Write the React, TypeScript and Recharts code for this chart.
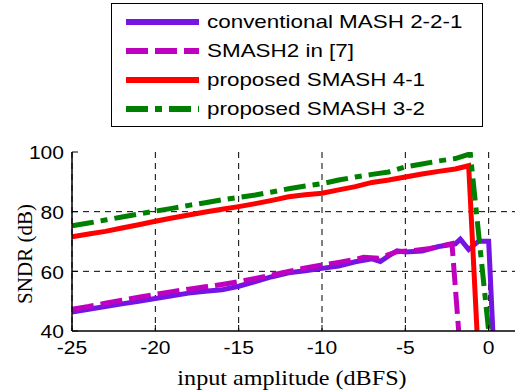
import React from "react";
import { LineChart, Line, XAxis, YAxis, CartesianGrid } from "recharts";

// input amplitude (dBFS) / SNDR (dB) for each curve
const mashX = [-25, -24, -23, -22, -21, -20, -19, -18, -17, -16, -15, -14, -13, -12, -11, -10, -9, -8, -7, -6.5, -6, -5.5, -5, -4, -3, -2, -1.7, -1.2, -0.6, 0, 0.25];
const mashY = [46.4, 47.3, 48.2, 49.1, 50.0, 50.9, 51.8, 52.7, 53.3, 53.8, 55.0, 56.6, 58.2, 59.5, 60.2, 61.0, 61.8, 63.2, 64.2, 63.3, 65.2, 66.9, 66.5, 66.8, 68.3, 69.2, 70.8, 67.3, 70.1, 70.1, 40];

const smash2X = [-25, -24, -23, -22, -21, -20, -19, -18, -17, -16, -15, -14, -13, -12, -11, -10, -9, -8, -7.5, -6.6, -5.5, -4.5, -3.5, -2.2, -1.8];
const smash2Y = [47.3, 48.2, 49.3, 50.3, 51.3, 52.3, 53.2, 54.0, 54.8, 55.6, 56.5, 57.6, 58.8, 60.0, 61.1, 62.1, 63.0, 64.0, 64.7, 64.4, 66.6, 67.0, 67.7, 69.3, 40];

const smash41X = [-25, -24, -23, -22, -21, -20, -19, -18, -17, -16, -15, -14, -13, -12, -11, -10, -9, -8, -7, -6, -5, -4, -3, -2, -1.2, -0.7];
const smash41Y = [71.6, 72.5, 73.4, 74.5, 75.6, 76.8, 77.9, 78.9, 79.9, 80.8, 81.7, 82.7, 83.8, 85.0, 85.7, 86.2, 87.3, 88.4, 89.8, 90.6, 91.6, 92.6, 93.5, 94.3, 95.4, 40];

const smash32X = [-25, -24, -23, -22, -21, -20, -19, -18, -17, -16, -15, -14, -13, -12, -11, -10, -9, -8, -7, -6, -5, -4, -3, -2, -1.1, 0];
const smash32Y = [75.3, 76.2, 77.2, 78.2, 79.2, 80.2, 81.1, 82.1, 83.0, 84.0, 84.8, 85.6, 86.6, 87.7, 88.6, 89.4, 90.6, 91.6, 92.5, 93.3, 95.0, 96.0, 97.0, 97.8, 99.4, 40];

const xTicks = [-25, -20, -15, -10, -5, 0];
const yTicks = [40, 60, 80, 100];

const series = [
  { name: "conventional MASH 2-2-1", color: "#7614E4", dash: undefined, xs: mashX, ys: mashY },
  { name: "SMASH2 in [7]", color: "#BF00BF", dash: "22 7", xs: smash2X, ys: smash2Y },
  { name: "proposed SMASH 4-1", color: "#FF0000", dash: undefined, xs: smash41X, ys: smash41Y },
  { name: "proposed SMASH 3-2", color: "#008000", dash: "22 7 7 7", xs: smash32X, ys: smash32Y },
].map((s) => ({ ...s, data: s.xs.map((x, i) => ({ x, y: s.ys[i] })) }));

const sansFont = "Liberation Sans";
const serifFont = "Liberation Serif";

const BottomTick = (props: any) => {
  const { x, y, payload } = props;
  return (
    <g>
      <line x1={x} x2={x} y1={y} y2={y - 6} stroke="#000" strokeWidth={1} />
      <text
        transform={`translate(${x},${y + 17}) scale(1.17,1)`}
        textAnchor="middle"
        dominantBaseline="central"
        fontSize={18}
        style={{ fontFamily: sansFont }}
        fill="#000"
      >
        {payload.value}
      </text>
    </g>
  );
};

const TopTick = (props: any) => {
  const { x, y } = props;
  return <line x1={x} x2={x} y1={y} y2={y + 6} stroke="#000" strokeWidth={1} />;
};

const LeftTick = (props: any) => {
  const { x, y, payload } = props;
  return (
    <g>
      <line x1={x} x2={x + 6} y1={y} y2={y} stroke="#000" strokeWidth={1} />
      <text
        transform={`translate(${x - 8},${y + 1}) scale(1.17,1)`}
        textAnchor="end"
        dominantBaseline="central"
        fontSize={18}
        style={{ fontFamily: sansFont }}
        fill="#000"
      >
        {payload.value}
      </text>
    </g>
  );
};

const LegendBox = () => (
  <div
    style={{
      position: "absolute",
      left: 111,
      top: 3,
      width: 370,
      height: 122,
      border: "1.5px solid #000",
      background: "#fff",
    }}
  >
    {series.map((s, i) => (
      <div
        key={s.name}
        style={{ position: "absolute", left: 0, top: 6 + i * 29, height: 26, width: 370 }}
      >
        <svg width={90} height={26} style={{ position: "absolute", left: 0, top: 0 }}>
          <line x1={14} x2={87} y1={12} y2={12} stroke={s.color} strokeWidth={6} strokeDasharray={s.dash} />
        </svg>
        <span
          style={{
            position: "absolute",
            left: 95,
            top: 0,
            lineHeight: "24px",
            fontSize: 19,
            fontFamily: sansFont,
            whiteSpace: "nowrap",
            transform: "scale(1.18,1)",
            transformOrigin: "left center",
            color: "#000",
          }}
        >
          {s.name}
        </span>
      </div>
    ))}
  </div>
);

export default function App() {
  return (
    <div
      style={{
        position: "fixed",
        left: 0,
        top: 0,
        width: 515,
        height: 392,
        overflow: "hidden",
        background: "#fff",
      }}
    >
      <LineChart width={540} height={392} margin={{ top: 152, right: 18, bottom: 0, left: 0 }}>
        <CartesianGrid stroke="#000" strokeDasharray="6 5" strokeWidth={1} verticalValues={xTicks} horizontalValues={[60, 80]} />
        <XAxis
          xAxisId="top"
          orientation="top"
          type="number"
          dataKey="x"
          domain={[-25, 2]}
          ticks={xTicks}
          height={0}
          tickSize={0}
          tickMargin={0}
          tickLine={false}
          tick={<TopTick />}
          axisLine={{ stroke: "#000", strokeWidth: 1.5 }}
          allowDataOverflow
        />
        <XAxis
          type="number"
          dataKey="x"
          domain={[-25, 2]}
          ticks={xTicks}
          height={61}
          tickSize={0}
          tickMargin={0}
          tickLine={false}
          tick={<BottomTick />}
          axisLine={{ stroke: "#000", strokeWidth: 1.5 }}
          allowDataOverflow
          label={() => (
            <text
              x={292}
              y={378}
              textAnchor="middle"
              dominantBaseline="central"
              fontSize={21}
              style={{ fontFamily: serifFont }}
              transform="translate(292,0) scale(1.15,1) translate(-292,0)"
              fill="#000"
            >
              input amplitude (dBFS)
            </text>
          )}
        />
        <YAxis
          type="number"
          domain={[40, 100]}
          ticks={yTicks}
          width={72}
          tickSize={0}
          tickMargin={0}
          tickLine={false}
          tick={<LeftTick />}
          axisLine={{ stroke: "#000", strokeWidth: 1.5 }}
          allowDataOverflow
          label={() => (
            <text
              x={25}
              y={254}
              transform="rotate(-90, 25, 254)"
              textAnchor="middle"
              dominantBaseline="central"
              fontSize={21}
              style={{ fontFamily: serifFont }}
              fill="#000"
            >
              SNDR (dB)
            </text>
          )}
        />
        {series.map((s) => (
          <Line
            key={s.name}
            data={s.data}
            dataKey="y"
            name={s.name}
            type="linear"
            stroke={s.color}
            strokeWidth={5}
            strokeDasharray={s.dash}
            dot={false}
            activeDot={false}
            isAnimationActive={false}
          />
        ))}
      </LineChart>
      <LegendBox />
    </div>
  );
}
